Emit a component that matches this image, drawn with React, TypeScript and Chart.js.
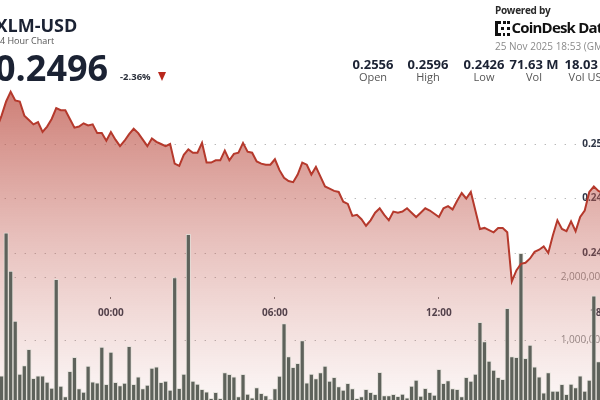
import React, { useEffect, useRef } from "react";
import { Chart, registerables } from "chart.js";

Chart.register(...registerables);
Chart.defaults.font.family = "'Open Sans', sans-serif";

// ---------- data ----------
const FIRST_STEP = -25; // 10-minute steps relative to 00:00
const LAST_STEP = 113;
const timeLabels: string[] = [];
for (let s = FIRST_STEP; s <= LAST_STEP; s++) {
  const m = (((s * 10) % 1440) + 1440) % 1440;
  timeLabels.push(
    String(Math.floor(m / 60)).padStart(2, "0") + ":" + String(m % 60).padStart(2, "0")
  );
}
const axisTimeLabels = ["00:00", "06:00", "12:00", "18:00"];

const priceValues = [
  0.2515, 0.2526, 0.2539, 0.2548, 0.254, 0.2539, 0.2526, 0.2522, 0.2518, 0.252,
  0.2511, 0.2516, 0.2523, 0.2533, 0.2531, 0.2531, 0.2523, 0.2515, 0.2516, 0.2519,
  0.2517, 0.2518, 0.251, 0.251, 0.2503, 0.2511, 0.2504, 0.2498, 0.2503, 0.2509,
  0.2514, 0.251, 0.2504, 0.2498, 0.2505, 0.2502, 0.25, 0.2498, 0.25, 0.2482,
  0.248, 0.249, 0.2495, 0.2492, 0.2492, 0.2501, 0.2483, 0.2483, 0.2485, 0.2485,
  0.2494, 0.2485, 0.2491, 0.2492, 0.2501, 0.2493, 0.2492, 0.2484, 0.2482, 0.2481,
  0.2481, 0.2486, 0.2476, 0.2469, 0.2466, 0.2465, 0.2472, 0.2483, 0.2481, 0.2472,
  0.2479, 0.247, 0.2461, 0.2459, 0.2457, 0.2456, 0.2447, 0.2445, 0.2434, 0.2435,
  0.2431, 0.2425, 0.243, 0.2437, 0.2441, 0.2435, 0.243, 0.2438, 0.2437, 0.2438,
  0.2441, 0.2437, 0.2433, 0.2437, 0.2441, 0.2439, 0.2436, 0.2433, 0.2441, 0.2443,
  0.244, 0.2448, 0.2455, 0.245, 0.2456, 0.2439, 0.2422, 0.2423, 0.2421, 0.2419,
  0.2423, 0.2423, 0.2419, 0.2374, 0.2384, 0.239, 0.2391, 0.2395, 0.2401, 0.2403,
  0.2406, 0.24, 0.2416, 0.243, 0.2422, 0.242, 0.2429, 0.242, 0.2433, 0.2439,
  0.2456, 0.2461, 0.2457, 0.2455,
];

const volumeValues = [
  798000, 433000, 2703000, 2095000, 1302000, 460000, 592000, 852000, 392000, 433000,
  433000, 333000, 238000, 1963000, 270000, 100000, 503000, 725000, 227000, 175000,
  587000, 338000, 322000, 889000, 297000, 810000, 329000, 275000, 317000, 900000,
  297000, 417000, 227000, 286000, 556000, 576000, 329000, 349000, 206000, 1989000,
  233000, 460000, 2678000, 349000, 300000, 217000, 179000, 75000, 170000, 75000,
  481000, 455000, 417000, 100000, 455000, 143000, 84000, 243000, 154000, 116000,
  63000, 227000, 429000, 1259000, 735000, 567000, 630000, 989000, 322000, 460000,
  386000, 481000, 587000, 349000, 408000, 259000, 206000, 312000, 227000, 75000,
  100000, 217000, 170000, 138000, 487000, 116000, 116000, 138000, 106000, 143000,
  84000, 270000, 365000, 111000, 233000, 170000, 127000, 535000, 312000, 354000,
  227000, 217000, 100000, 408000, 349000, 460000, 1281000, 973000, 667000, 524000,
  408000, 376000, 1503000, 735000, 725000, 2376000, 709000, 921000, 576000, 417000,
  163000, 481000, 190000, 190000, 297000, 138000, 302000, 243000, 433000, 190000,
  365000, 1703000, 656000, 365000,
];

const priceTicks = [0.24, 0.245, 0.25];
const volumeTicks = [1000000, 2000000];

const symbolText = "XLM-USD";
const subtitleText = "24 Hour Chart";
const lastPriceText = "0.2496";
const changeText = "-2.36%";
const dateText = "25 Nov 2025 18:53 (GMT)";
const statValues = ["0.2556", "0.2596", "0.2426", "71.63 M", "18.03 M"];
const statLabels = ["Open", "High", "Low", "Vol", "Vol USD"];
const statCenters = [373, 428, 484, 534, 589];

// ---------- geometry (page px) ----------
const STEP_PX = 4.556;
const ZERO_X = 111;
const PRICE_REF = 0.25;
const PRICE_REF_Y = 144;
const PRICE_PX = 10900;
const VOL_BASE_Y = 403;
const VOL_PX = 63 / 1000000;
const X_AXIS_Y = 297;

type Limits = { pMin: number; pMax: number; vMin: number; vMax: number };

function makeConfig(lim: Limits): any {
  const xAxisPrice = PRICE_REF - (X_AXIS_Y - PRICE_REF_Y) / PRICE_PX;
  const isMajor = (i: number) => axisTimeLabels.includes(timeLabels[i]);
  return {
    type: "bar",
    data: {
      labels: timeLabels,
      datasets: [
        {
          type: "line",
          label: "Price",
          data: priceValues,
          yAxisID: "y",
          borderColor: "#b5392c",
          borderWidth: 2,
          pointRadius: 0,
          tension: 0,
          fill: "start",
          order: 0,
          backgroundColor: (ctx: any) => {
            const c = ctx.chart.ctx;
            const g = c.createLinearGradient(0, 90, 0, 400);
            g.addColorStop(0, "rgba(186,76,64,0.72)");
            g.addColorStop(0.5, "rgba(196,96,86,0.38)");
            g.addColorStop(1, "rgba(200,110,100,0.06)");
            return g;
          },
        },
        {
          type: "bar",
          label: "Volume",
          data: volumeValues,
          yAxisID: "yVol",
          backgroundColor: "#5e625b",
          borderColor: "rgba(225,222,215,0.85)",
          borderWidth: 1,
          barPercentage: 1,
          categoryPercentage: 1,
          order: 1,
        },
      ],
    },
    options: {
      responsive: false,
      animation: false,
      devicePixelRatio: 1,
      layout: { padding: 0 },
      plugins: {
        legend: { display: false },
        tooltip: { enabled: false },
        filler: { drawTime: "beforeDatasetsDraw" },
      },
      scales: {
        x: {
          type: "category",
          position: { y: xAxisPrice },
          offset: true,
          z: 2,
          grid: {
            offset: false,
            drawOnChartArea: false,
            drawTicks: true,
            tickLength: 2,
            tickWidth: 1,
            tickColor: (c: any) => (isMajor(c.index) ? "#777" : "rgba(0,0,0,0)"),
          },
          border: { display: false },
          ticks: {
            autoSkip: false,
            maxRotation: 0,
            minRotation: 0,
            padding: 8,
            color: "#2e3545",
            font: { weight: "bold", size: 10 },
            callback: (_v: any, i: number) => (isMajor(i) ? timeLabels[i] : ""),
          },
        },
        y: {
          position: "right",
          min: lim.pMin,
          max: lim.pMax,
          z: 2,
          afterBuildTicks: (s: any) => {
            s.ticks = priceTicks.map((v) => ({ value: v }));
          },
          grid: { drawTicks: false, color: "#9c9c9c", lineWidth: 1 },
          border: { display: false, dash: [1, 9] },
          ticks: {
            mirror: true,
            padding: -20,
            color: "#2e3545",
            font: { weight: "bold", size: 10 },
            callback: (v: any) => Number(v).toFixed(3),
          },
        },
        yVol: {
          position: "right",
          min: lim.vMin,
          max: lim.vMax,
          z: 2,
          afterBuildTicks: (s: any) => {
            s.ticks = volumeTicks.map((v) => ({ value: v }));
          },
          grid: { drawTicks: false, color: "#9c9c9c", lineWidth: 1 },
          border: { display: false, dash: [1, 9] },
          ticks: {
            mirror: true,
            padding: 18,
            color: "#8c8c8c",
            font: { size: 10 },
            callback: (v: any) => Number(v).toLocaleString("en-US"),
          },
        },
      },
    },
  };
}

function limitsFor(top: number, bottom: number): Limits {
  return {
    pMax: PRICE_REF + (PRICE_REF_Y - top) / PRICE_PX,
    pMin: PRICE_REF - (bottom - PRICE_REF_Y) / PRICE_PX,
    vMax: (VOL_BASE_Y - top) / VOL_PX,
    vMin: (VOL_BASE_Y - bottom) / VOL_PX,
  };
}

function PriceChart() {
  const canvasRef = useRef<HTMLCanvasElement | null>(null);
  useEffect(() => {
    const canvas = canvasRef.current;
    if (!canvas) return;
    const H = 430;
    const n = timeLabels.length;
    const create = (W: number, lim: Limits) => {
      canvas.width = W;
      canvas.height = H;
      canvas.style.width = W + "px";
      canvas.style.height = H + "px";
      return new Chart(canvas, makeConfig(lim));
    };
    let W = 660;
    let chart = create(W, limitsFor(0, H));
    let ca = chart.chartArea;
    const extra = W - (ca.right - ca.left);
    W = Math.round(n * STEP_PX + extra);
    const lim = limitsFor(ca.top, ca.bottom);
    chart.destroy();
    chart = create(W, lim);
    ca = chart.chartArea;
    const lim2 = limitsFor(ca.top, ca.bottom);
    const sc: any = chart.options.scales;
    sc.y.min = lim2.pMin;
    sc.y.max = lim2.pMax;
    sc.yVol.min = lim2.vMin;
    sc.yVol.max = lim2.vMax;
    chart.update();
    ca = chart.chartArea;
    const step = (ca.right - ca.left) / n;
    const firstCenter = ca.left + step / 2;
    const desired = ZERO_X + FIRST_STEP * STEP_PX;
    canvas.style.left = desired - firstCenter + "px";
    return () => chart.destroy();
  }, []);
  return <canvas ref={canvasRef} style={{ position: "absolute", top: 0, left: -6 }} />;
}

function CoinDeskIcon() {
  return (
    <svg width="15" height="15" viewBox="0 0 15 15" style={{ position: "absolute", left: 495, top: 21 }}>
      <rect x="0" y="0" width="3" height="15" fill="#111" />
      <rect x="0" y="0" width="6" height="3" fill="#111" />
      <rect x="0" y="12" width="6" height="3" fill="#111" />
      <rect x="8" y="0" width="3" height="3" fill="#111" />
      <rect x="12" y="0" width="3" height="3" fill="#111" />
      <rect x="6" y="6" width="3" height="3" fill="#111" />
      <rect x="12" y="6" width="3" height="3" fill="#111" />
      <rect x="12" y="12" width="3" height="3" fill="#111" />
      <rect x="8" y="12" width="2" height="3" fill="#111" />
    </svg>
  );
}

export default function App() {
  const text = (style: React.CSSProperties, content: string) => (
    <div style={{ position: "absolute", whiteSpace: "nowrap", lineHeight: 1, ...style }}>{content}</div>
  );
  return (
    <div
      style={{
        position: "fixed",
        left: 0,
        top: 0,
        width: 600,
        height: 400,
        overflow: "hidden",
        background: "#fff",
        fontFamily: "'Open Sans', sans-serif",
      }}
    >
      <PriceChart />
      {text({ left: -4.5, top: 15.7, fontSize: 18, fontWeight: 700, color: "#1b2233" }, symbolText)}
      {text({ left: -5.2, top: 36, fontSize: 9, color: "#555" }, subtitleText)}
      {text({ left: -5, top: 50, fontSize: 36, fontWeight: 700, color: "#1b2233" }, lastPriceText)}
      {text({ left: 120, top: 71.5, fontSize: 9.5, fontWeight: 700, color: "#2a2f3a" }, changeText)}
      <div
        style={{
          position: "absolute",
          left: 158,
          top: 72,
          width: 0,
          height: 0,
          borderLeft: "4.5px solid transparent",
          borderRight: "4.5px solid transparent",
          borderTop: "9px solid #b8271c",
        }}
      />
      {text({ left: 495, top: 5.1, fontSize: 10, fontWeight: 700, color: "#2a2a2a", letterSpacing: -0.3 }, "Powered by")}
      <CoinDeskIcon />
      {text({ left: 511.5, top: 20, fontSize: 15, fontWeight: 700, color: "#111", letterSpacing: -0.8 }, "CoinDesk Data")}
      {text({ left: 495, top: 41, fontSize: 10, color: "#8a8a8a" }, dateText)}
      {statValues.map((v, i) => (
        <div
          key={"v" + i}
          style={{
            position: "absolute",
            left: statCenters[i] - 40,
            width: 80,
            textAlign: "center",
            top: 57.8,
            fontSize: 13,
            fontWeight: 700,
            lineHeight: 1,
            color: "#1b2233",
            whiteSpace: "nowrap",
          }}
        >
          {v}
        </div>
      ))}
      {statLabels.map((v, i) => (
        <div
          key={"l" + i}
          style={{
            position: "absolute",
            left: statCenters[i] - 40,
            width: 80,
            textAlign: "center",
            top: 70.5,
            fontSize: 11,
            lineHeight: 1,
            color: "#555",
            whiteSpace: "nowrap",
          }}
        >
          {v}
        </div>
      ))}
    </div>
  );
}
